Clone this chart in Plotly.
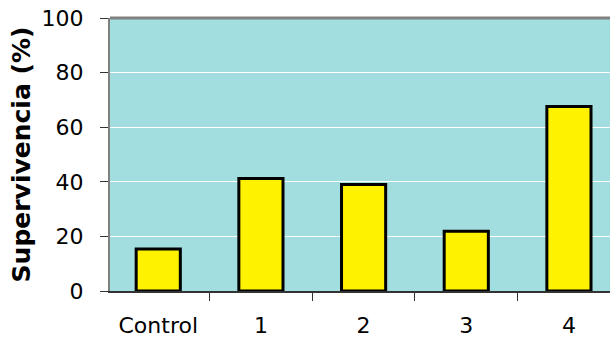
import plotly.graph_objects as go

categories = ["Control", "1", "2", "3", "4"]
survival = [15.4, 41.2, 39.0, 21.9, 67.6]
y_ticks = [0, 20, 40, 60, 80, 100]

fig = go.Figure()
fig.add_trace(go.Bar(
    x=categories, y=survival, width=0.43,
    marker=dict(color="#FFF200", line=dict(color="#000000", width=3)),
    hoverinfo="skip",
))

fig.update_layout(
    width=610, height=338,
    margin=dict(l=110, r=0, t=18, b=47),
    paper_bgcolor="white",
    plot_bgcolor="#A2DEDF",
    showlegend=False,
    font=dict(family="DejaVu Sans", color="black"),
)
fig.update_xaxes(
    type="category", range=[-0.47, 4.40],
    tickson="boundaries", ticks="outside", ticklen=8, tickcolor="#333333", tickwidth=1,
    showline=True, linecolor="#333333", linewidth=2,
    showgrid=False,
    ticklabelstandoff=14,
    tickfont=dict(size=22, family="DejaVu Sans"),
)
fig.update_yaxes(
    range=[0, 100], tickvals=y_ticks,
    ticks="outside", ticklen=8, tickcolor="#333333",
    showline=True, linecolor="#808080", linewidth=2, mirror=False,
    showgrid=True, gridcolor="white", gridwidth=1,
    zeroline=False,
    ticklabelstandoff=12, ticklabeloverflow="allow",
    tickfont=dict(size=22, family="DejaVu Sans"),
    title=dict(text="<b>Supervivencia (%)</b>", font=dict(size=25, family="DejaVu Sans"), standoff=4),
)
fig.add_shape(type="line", xref="paper", yref="paper", x0=0, x1=1, y0=1, y1=1,
              line=dict(color="#808080", width=3))

fig.write_html(
    "out.html",
    config={"displayModeBar": False},
    post_script="document.body.style.margin='0';document.body.style.overflow='hidden';",
)
